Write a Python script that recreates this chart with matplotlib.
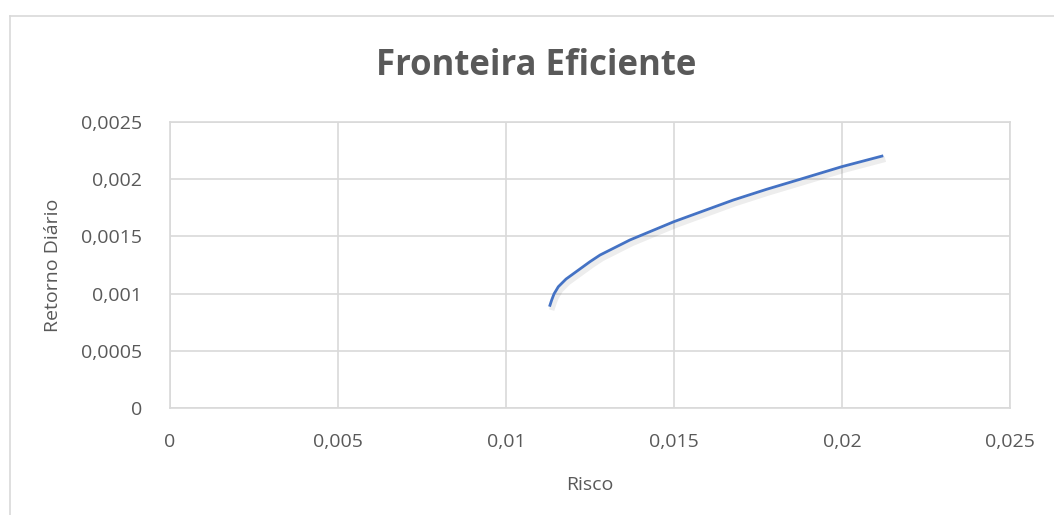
import matplotlib
matplotlib.use("Agg")
import matplotlib.pyplot as plt
import matplotlib.patheffects as pe
from matplotlib.ticker import FuncFormatter

# risco (desvio padrão) x retorno diário da carteira
risco = [0.011295, 0.011360, 0.011429, 0.011557, 0.011786, 0.012500, 0.012798,
         0.013690, 0.015000, 0.016765, 0.017759, 0.018750, 0.020000, 0.021229]
retorno = [0.000886, 0.000944, 0.000997, 0.001060, 0.001127, 0.001279, 0.001337,
           0.001469, 0.001629, 0.001818, 0.001912, 0.001999, 0.002110, 0.002205]

x_ticks = [0, 0.005, 0.01, 0.015, 0.02, 0.025]
y_ticks = [0, 0.0005, 0.001, 0.0015, 0.002, 0.0025]

grey = "#595959"
grid_c = "#D9D9D9"
plt.rcParams['font.family'] = ['Open Sans', 'DejaVu Sans']

fig = plt.figure(figsize=(10.54, 5.15), dpi=100)
ax = fig.add_axes([170 / 1054, 1 - 408 / 515, 840 / 1054, 286 / 515])

# moldura do gráfico (só esquerda e topo ficam visíveis)
fig.add_artist(plt.Line2D([10 / 1054, 10 / 1054], [0, 1 - 16 / 515],
                          transform=fig.transFigure, color=grid_c, lw=1.2))
fig.add_artist(plt.Line2D([10 / 1054, 1], [1 - 16 / 515, 1 - 16 / 515],
                          transform=fig.transFigure, color=grid_c, lw=1.2))

ax.plot(risco, retorno, color="#4472C4", lw=2, solid_capstyle='butt',
        solid_joinstyle='round',
        path_effects=[pe.SimpleLineShadow(offset=(1.5, -2.5), shadow_color='#000000', alpha=0.07, linewidth=4),
                      pe.Normal()], zorder=3)

ax.set_xlim(0, 0.025)
ax.set_ylim(0, 0.0025)
ax.set_xticks(x_ticks)
ax.set_yticks(y_ticks)
fmt = FuncFormatter(lambda v, p: f"{round(v, 6):g}".replace('.', ','))
ax.xaxis.set_major_formatter(fmt)
ax.yaxis.set_major_formatter(fmt)
ax.grid(True, color=grid_c, lw=1.2)
ax.set_axisbelow(True)
for s in ax.spines.values():
    s.set_color(grid_c)
    s.set_linewidth(1.2)
ax.tick_params(length=0, labelsize=14, colors=grey, pad=20)
ax.tick_params(axis='x', pad=18)

ax.set_xlabel("Risco", fontsize=14, color=grey, labelpad=18)
ax.set_ylabel("Retorno Diário", fontsize=14, color=grey, labelpad=14)

fig.text(0.509, 1 - 66 / 515, "Fronteira Eficiente", fontsize=25, fontweight='bold',
         color=grey, ha='center', va='center')

fig.savefig("out.png", dpi=100)
